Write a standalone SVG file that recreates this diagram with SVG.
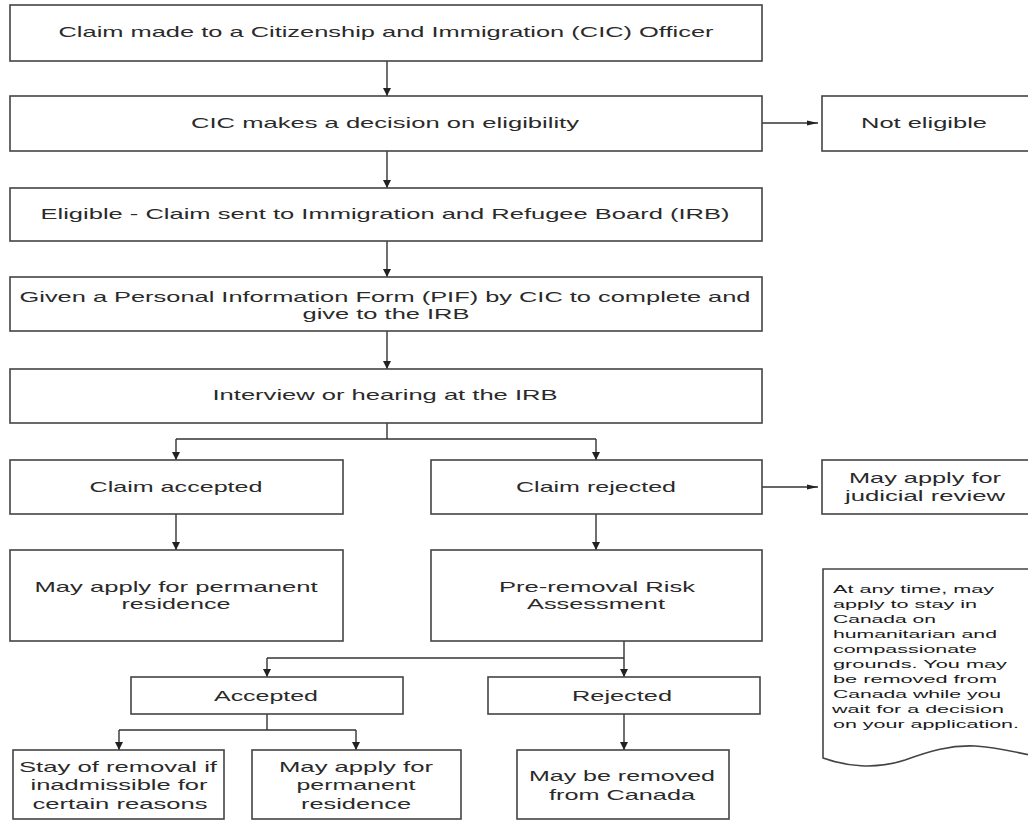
<svg xmlns="http://www.w3.org/2000/svg" width="1028" height="822" viewBox="0 0 1028 822">
<defs>
<marker id="ah" markerUnits="userSpaceOnUse" markerWidth="8" markerHeight="8" refX="8" refY="4" orient="auto">
<path d="M0,0 L8,4 L0,8 z" fill="#222"/>
</marker>
<marker id="ahh" markerUnits="userSpaceOnUse" markerWidth="11" markerHeight="6" refX="11" refY="3" orient="auto">
<path d="M0,0.5 L11,3 L0,5.5 z" fill="#222"/>
</marker>
</defs>
<style>
.b, .note { fill: #fff; stroke: #444; stroke-width: 1.6; }
.t { font-family: "Liberation Sans", Arial, sans-serif; font-size: 15px; fill: #2a2a2a; text-anchor: middle; }
.n { font-family: "Liberation Sans", Arial, sans-serif; font-size: 11px; fill: #1a1a1a; }
.c { fill: none; stroke: #333; stroke-width: 1.4; }
.v { marker-end: url(#ah); }
.h { marker-end: url(#ahh); }
</style>
<rect width="1028" height="822" fill="#fff"/>

<g id="connectors">
<path class="c v" d="M387,61 V96"/>
<path class="c v" d="M387,151 V188"/>
<path class="c v" d="M387,241 V277"/>
<path class="c v" d="M387,331 V369"/>
<path class="c h" d="M762,123 H818"/>
<path class="c" d="M387,423 V439 M176,439 H596"/>
<path class="c v" d="M176,439 V460"/>
<path class="c v" d="M596,439 V460"/>
<path class="c h" d="M762,487 H818"/>
<path class="c v" d="M176,514 V550"/>
<path class="c v" d="M596,514 V550"/>
<path class="c" d="M267,658 H624"/>
<path class="c v" d="M624,641 V677"/>
<path class="c v" d="M267,658 V677"/>
<path class="c" d="M267,714 V730 M119,730 H356"/>
<path class="c v" d="M119,730 V750"/>
<path class="c v" d="M356,730 V750"/>
<path class="c v" d="M624,714 V750"/>
</g>

<g id="claim">
<rect class="b" x="10" y="5" width="752" height="56"/>
<text class="t" x="386" y="37" textLength="655" lengthAdjust="spacingAndGlyphs">Claim made to a Citizenship and Immigration (CIC) Officer</text>
</g>
<g id="decision">
<rect class="b" x="10" y="96" width="752" height="55"/>
<text class="t" x="385" y="128" textLength="388" lengthAdjust="spacingAndGlyphs">CIC makes a decision on eligibility</text>
</g>
<g id="not-eligible">
<rect class="b" x="822" y="96" width="212" height="55"/>
<text class="t" x="924" y="128" textLength="126" lengthAdjust="spacingAndGlyphs">Not eligible</text>
</g>
<g id="eligible">
<rect class="b" x="10" y="188" width="752" height="53"/>
<text class="t" x="385" y="219" textLength="689" lengthAdjust="spacingAndGlyphs">Eligible - Claim sent to Immigration and Refugee Board (IRB)</text>
</g>
<g id="pif">
<rect class="b" x="10" y="277" width="752" height="54"/>
<text class="t" x="385" y="302" textLength="731" lengthAdjust="spacingAndGlyphs">Given a Personal Information Form (PIF) by CIC to complete and</text>
<text class="t" x="386" y="319" textLength="167" lengthAdjust="spacingAndGlyphs">give to the IRB</text>
</g>
<g id="interview">
<rect class="b" x="10" y="369" width="752" height="54"/>
<text class="t" x="385" y="400" textLength="345" lengthAdjust="spacingAndGlyphs">Interview or hearing at the IRB</text>
</g>
<g id="claim-accepted">
<rect class="b" x="10" y="460" width="333" height="54"/>
<text class="t" x="176" y="492" textLength="173" lengthAdjust="spacingAndGlyphs">Claim accepted</text>
</g>
<g id="claim-rejected">
<rect class="b" x="431" y="460" width="331" height="54"/>
<text class="t" x="596" y="492" textLength="160" lengthAdjust="spacingAndGlyphs">Claim rejected</text>
</g>
<g id="judicial-review">
<rect class="b" x="822" y="460" width="212" height="54"/>
<text class="t" x="925" y="483" textLength="152" lengthAdjust="spacingAndGlyphs">May apply for</text>
<text class="t" x="925" y="501" textLength="160" lengthAdjust="spacingAndGlyphs">judicial review</text>
</g>
<g id="permanent-residence">
<rect class="b" x="10" y="550" width="333" height="91"/>
<text class="t" x="176" y="592" textLength="283" lengthAdjust="spacingAndGlyphs">May apply for permanent</text>
<text class="t" x="176" y="609" textLength="109" lengthAdjust="spacingAndGlyphs">residence</text>
</g>
<g id="pre-removal">
<rect class="b" x="431" y="550" width="331" height="91"/>
<text class="t" x="597" y="592" textLength="196" lengthAdjust="spacingAndGlyphs">Pre-removal Risk</text>
<text class="t" x="596" y="609" textLength="138" lengthAdjust="spacingAndGlyphs">Assessment</text>
</g>
<g id="accepted">
<rect class="b" x="131" y="677" width="272" height="37"/>
<text class="t" x="266" y="701" textLength="104" lengthAdjust="spacingAndGlyphs">Accepted</text>
</g>
<g id="rejected">
<rect class="b" x="488" y="677" width="272" height="37"/>
<text class="t" x="622" y="701" textLength="100" lengthAdjust="spacingAndGlyphs">Rejected</text>
</g>
<g id="stay-of-removal">
<rect class="b" x="13" y="750" width="211" height="69"/>
<text class="t" x="118" y="772" textLength="198" lengthAdjust="spacingAndGlyphs">Stay of removal if</text>
<text class="t" x="119" y="790" textLength="177" lengthAdjust="spacingAndGlyphs">inadmissible for</text>
<text class="t" x="120" y="809" textLength="175" lengthAdjust="spacingAndGlyphs">certain reasons</text>
</g>
<g id="permanent-residence-2">
<rect class="b" x="252" y="750" width="209" height="69"/>
<text class="t" x="356" y="772" textLength="154" lengthAdjust="spacingAndGlyphs">May apply for</text>
<text class="t" x="356" y="790" textLength="119" lengthAdjust="spacingAndGlyphs">permanent</text>
<text class="t" x="356" y="809" textLength="110" lengthAdjust="spacingAndGlyphs">residence</text>
</g>
<g id="removed">
<rect class="b" x="517" y="750" width="212" height="69"/>
<text class="t" x="622" y="781" textLength="186" lengthAdjust="spacingAndGlyphs">May be removed</text>
<text class="t" x="622" y="800" textLength="146" lengthAdjust="spacingAndGlyphs">from Canada</text>
</g>
<g id="note">
<path class="note" d="M1034,569 H823 V758 C845,766 875,770 905,760 C930,751 950,745 975,746 C995,747 1012,751 1034,756"/>
<text class="n" x="833" y="593" textLength="161" lengthAdjust="spacingAndGlyphs">At any time, may</text>
<text class="n" x="833" y="608" textLength="144" lengthAdjust="spacingAndGlyphs">apply to stay in</text>
<text class="n" x="833" y="623" textLength="103" lengthAdjust="spacingAndGlyphs">Canada on</text>
<text class="n" x="833" y="638" textLength="164" lengthAdjust="spacingAndGlyphs">humanitarian and</text>
<text class="n" x="833" y="653" textLength="144" lengthAdjust="spacingAndGlyphs">compassionate</text>
<text class="n" x="833" y="668" textLength="174" lengthAdjust="spacingAndGlyphs">grounds. You may</text>
<text class="n" x="833" y="683" textLength="164" lengthAdjust="spacingAndGlyphs">be removed from</text>
<text class="n" x="833" y="698" textLength="168" lengthAdjust="spacingAndGlyphs">Canada while you</text>
<text class="n" x="832" y="713" textLength="172" lengthAdjust="spacingAndGlyphs">wait for a decision</text>
<text class="n" x="833" y="728" textLength="186" lengthAdjust="spacingAndGlyphs">on your application.</text>
</g>
</svg>
